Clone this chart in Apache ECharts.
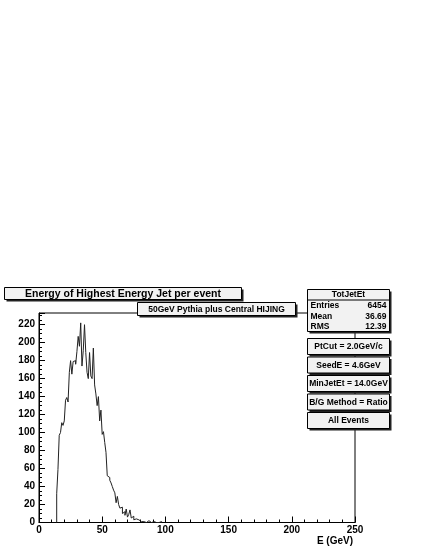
<!DOCTYPE html>
<html>
<head>
<meta charset="utf-8">
<script src="https://cdn.jsdelivr.net/npm/echarts@6/dist/echarts.min.js"></script>
<style>
html,body{margin:0;padding:0;background:#fff;}
#chart{width:425px;height:550px;}
</style>
</head>
<body>
<div id="chart"></div>
<script>
// ---- data (1 GeV bins, first bin starts at 14 GeV) ----
const firstBinLow = 14;
const binWidth = 1;
const counts = [
  32, 59, 97, 100, 111, 108, 113, 136, 139, 134,
  167, 180, 165, 179, 180, 176, 190, 207, 196, 222,
  174, 191, 220, 189, 167, 160, 189, 163, 160, 194,
  153, 143, 130, 140, 113, 125, 98, 101, 89, 78,
  52, 50, 47, 44, 40, 36, 33, 22, 29, 20,
  16, 17, 10, 12, 8, 15, 6, 9, 14, 5,
  7, 3, 4, 2, 3, 2, 1, 2, 1, 2,
  0, 1, 2, 1, 0, 1, 1, 0, 0, 1,
  0, 0, 1
];
const xTicks = [0, 50, 100, 150, 200, 250];
const yTicks = [0, 20, 40, 60, 80, 100, 120, 140, 160, 180, 200, 220];
const titleText = 'Energy of Highest Energy Jet per event';
const subTitleText = '50GeV Pythia plus Central HIJING';
const statsName = 'TotJetEt';
const statsRows = [['Entries', '6454'], ['Mean', '36.69'], ['RMS', '12.39']];
const infoBoxes = ['PtCut = 2.0GeV/c', 'SeedE = 4.6GeV', 'MinJetEt = 14.0GeV', 'B/G Method = Ratio', 'All Events'];
const xTitle = 'E (GeV)';

// ---- build step data ----
const stepData = [[firstBinLow, 0]];
counts.forEach((c, i) => stepData.push([firstBinLow + i * binWidth, c]));
stepData.push([firstBinLow + counts.length * binWidth, 0]);

const FONT = '"Liberation Sans", Arial, Helvetica, sans-serif';

function pave(x, y, w, h, children) {
  return {
    type: 'group', x: x, y: y, z: 100,
    children: [
      {type: 'rect', shape: {x: 2, y: 2, width: w, height: h}, style: {fill: '#222'}, z: 100},
      {type: 'rect', shape: {x: 0, y: 0, width: w, height: h}, style: {fill: '#f2f2f2', stroke: '#000', lineWidth: 1}, z: 101}
    ].concat(children)
  };
}
function txt(x, y, s, size, align) {
  return {type: 'text', x: x, y: y, z: 102,
    style: {text: s, font: 'bold ' + size + 'px ' + FONT, fill: '#000', textAlign: align || 'center', textVerticalAlign: 'middle'}};
}

const graphics = [];
// title
graphics.push(pave(4.5, 287.5, 237, 12, [txt(118.5, 6.5, titleText, 10.5)]));
// subtitle
graphics.push(pave(137.5, 302.5, 158, 13, [txt(79, 7, subTitleText, 8.5)]));
// stats box
const statsChildren = [
  txt(41, 5.5, statsName, 8.5),
  {type: 'line', shape: {x1: 0, y1: 10.5, x2: 82, y2: 10.5}, style: {stroke: '#000', lineWidth: 1}, z: 102}
];
statsRows.forEach((r, i) => {
  statsChildren.push(txt(3, 16 + i * 10.8, r[0], 8.5, 'left'));
  statsChildren.push(txt(79, 16 + i * 10.8, r[1], 8.5, 'right'));
});
graphics.push(pave(307.5, 289.5, 82, 42, statsChildren));
// info boxes
infoBoxes.forEach((s, i) => {
  graphics.push(pave(307.5, 338.5 + i * 18.5, 82, 16, [txt(41, 8.5, s, 8.5)]));
});

const chart = echarts.init(document.getElementById('chart'), null, {renderer: 'canvas'});
chart.setOption({
  animation: false,
  backgroundColor: '#fff',
  grid: {left: 39, right: 70, top: 313, bottom: 27.5, show: true, borderColor: '#000', borderWidth: 1, backgroundColor: 'transparent'},
  xAxis: {
    type: 'value', min: xTicks[0], max: xTicks[xTicks.length - 1], interval: xTicks[1] - xTicks[0],
    axisLine: {show: true, onZero: false, lineStyle: {color: '#000', width: 1}},
    axisTick: {show: true, inside: true, length: 6, lineStyle: {color: '#000'}},
    minorTick: {show: true, splitNumber: 5, length: 3, lineStyle: {color: '#000'}},
    splitLine: {show: false},
    axisLabel: {margin: 3, fontSize: 10, fontWeight: 'bold', fontFamily: FONT, color: '#000'},
    name: xTitle, nameLocation: 'end', nameGap: -2,
    nameTextStyle: {fontSize: 10, fontWeight: 'bold', fontFamily: FONT, color: '#000', align: 'right', verticalAlign: 'top', padding: [14, 0, 0, 0]}
  },
  yAxis: {
    type: 'value', min: yTicks[0], max: 233, interval: yTicks[1] - yTicks[0],
    axisLine: {show: true, lineStyle: {color: '#000', width: 1}},
    axisTick: {show: true, inside: true, length: 6, lineStyle: {color: '#000'}},
    minorTick: {show: true, splitNumber: 4, length: 3, lineStyle: {color: '#000'}},
    splitLine: {show: false},
    axisLabel: {margin: 4, fontSize: 10, fontWeight: 'bold', fontFamily: FONT, color: '#000', showMaxLabel: false}
  },
  series: [{
    type: 'line', step: 'end', data: stepData, showSymbol: false, symbol: 'none',
    lineStyle: {color: '#222', width: 1}, z: 5
  }],
  graphic: graphics
});
</script>
</body>
</html>
